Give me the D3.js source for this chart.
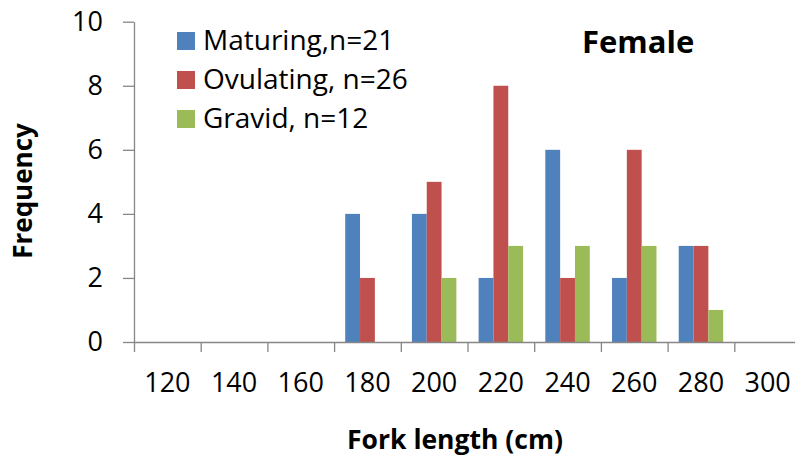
<!DOCTYPE html>
<html>
<head>
<meta charset="utf-8">
<script src="https://cdn.jsdelivr.net/npm/d3@7"></script>
<style>
  body { margin: 0; background: #fff; }
  text { font-family: "Open Sans", sans-serif; }
</style>
</head>
<body>
<div id="wrapper"></div>
<script>
// fork length classes (cm)
const categories = ["120", "140", "160", "180", "200", "220", "240", "260", "280", "300"];
const seriesNames = ["Maturing,n=21", "Ovulating, n=26", "Gravid, n=12"];
const maturing = [0, 0, 0, 4, 4, 2, 6, 2, 3, 0];
const ovulating = [0, 0, 0, 2, 5, 8, 2, 6, 3, 0];
const gravid = [0, 0, 0, 0, 2, 3, 3, 3, 1, 0];
const colors = ["#4f81bd", "#c0504d", "#9bbb59"];
const yTicks = [0, 2, 4, 6, 8, 10];

function drawChart() {
  const dimensions = {
    width: 795,
    height: 461,
    margin: { top: 21.7, right: -6, bottom: 119, left: 134 },
  };
  dimensions.boundWidth =
    dimensions.width - dimensions.margin.left - dimensions.margin.right;
  dimensions.boundHeight =
    dimensions.height - dimensions.margin.top - dimensions.margin.bottom;

  const svg = d3.select("#wrapper")
    .append("svg")
    .attr("width", dimensions.width)
    .attr("height", dimensions.height);

  const bounds = svg.append("g")
    .attr("transform", `translate(${dimensions.margin.left},${dimensions.margin.top})`);

  const values = [maturing, ovulating, gravid];
  const dataset = categories.map((c, i) => ({
    cat: c,
    vals: seriesNames.map((s, j) => ({ key: s, value: values[j][i], idx: j })),
  }));

  const xScale = d3.scaleBand()
    .domain(categories)
    .range([0, dimensions.boundWidth]);
  // excel style gap width 150%
  const x1Scale = d3.scaleBand()
    .domain(seriesNames)
    .range([0, xScale.bandwidth()])
    .paddingOuter(0.75);
  const yScale = d3.scaleLinear()
    .domain([0, 10])
    .range([dimensions.boundHeight, 0]);

  // bars
  bounds.append("g")
    .selectAll("g")
    .data(dataset)
    .join("g")
    .attr("transform", (d) => `translate(${xScale(d.cat)},0)`)
    .selectAll("rect")
    .data((d) => d.vals)
    .join("rect")
    .attr("x", (d) => x1Scale(d.key))
    .attr("width", x1Scale.bandwidth())
    .attr("y", (d) => yScale(d.value))
    .attr("height", (d) => dimensions.boundHeight - yScale(d.value))
    .attr("fill", (d) => colors[d.idx]);

  // y axis
  const yAxis = bounds.append("g")
    .call(d3.axisLeft(yScale).tickValues(yTicks).tickSize(11).tickSizeOuter(0).tickPadding(20));

  // x axis: tick marks on class boundaries
  const edgeScale = d3.scaleLinear()
    .domain([0, categories.length])
    .range([0, dimensions.boundWidth]);
  const xTickAxis = bounds.append("g")
    .attr("transform", `translate(0,${dimensions.boundHeight})`)
    .call(d3.axisBottom(edgeScale).tickValues(d3.range(0, categories.length + 1))
      .tickFormat("").tickSize(10).tickSizeOuter(0));

  const xLabelAxis = bounds.append("g")
    .attr("transform", `translate(0,${dimensions.boundHeight})`)
    .call(d3.axisBottom(xScale).tickSize(0).tickPadding(31));
  xLabelAxis.select(".domain").remove();

  [yAxis, xTickAxis].forEach((ax) => {
    ax.selectAll("path, line").attr("stroke", "#868686").attr("stroke-width", 1.3);
  });
  [yAxis, xLabelAxis].forEach((ax) => {
    ax.selectAll("text")
      .attr("font-family", "Open Sans")
      .attr("font-size", 27)
      .attr("fill", "#000");
  });

  // axis titles
  svg.append("text")
    .attr("transform", "translate(32,191) rotate(-90)")
    .attr("text-anchor", "middle")
    .attr("font-size", 26)
    .attr("font-weight", "bold")
    .text("Frequency");

  svg.append("text")
    .attr("x", 455)
    .attr("y", 449)
    .attr("text-anchor", "middle")
    .attr("font-size", 26.5)
    .attr("font-weight", "bold")
    .text("Fork length (cm)");

  svg.append("text")
    .attr("x", 582)
    .attr("y", 53)
    .attr("font-size", 31)
    .attr("font-weight", "bold")
    .text("Female");

  // legend
  const legend = svg.append("g")
    .attr("transform", "translate(177,32)");
  const items = legend.selectAll("g")
    .data(seriesNames)
    .join("g")
    .attr("transform", (d, i) => `translate(0,${i * 39})`);
  items.append("rect")
    .attr("width", 18)
    .attr("height", 18)
    .attr("fill", (d, i) => colors[i]);
  items.append("text")
    .attr("x", 26)
    .attr("y", 18)
    .attr("font-size", 28)
    .text((d) => d);
}

drawChart();
</script>
</body>
</html>
